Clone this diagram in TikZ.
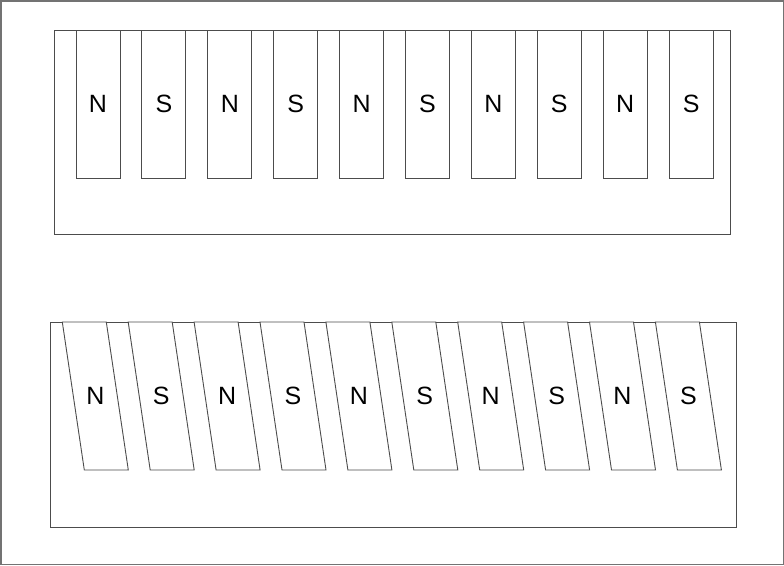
\documentclass[tikz,border=0pt]{standalone}
\usepackage{fontspec}
\setmainfont{Liberation Sans}
\begin{document}
\begin{tikzpicture}[x=1pt,y=-1pt,
  frame/.style={draw=black!70,line width=0.9pt},
  pole/.style={draw=black!70,line width=0.9pt,fill=white},
  lbl/.style={font=\fontsize{25}{25}\selectfont,inner sep=0pt}]
\useasboundingbox (0,0) rectangle (784,565);
\draw[draw=black!55,line width=1.5pt] (0.75,0.75) rectangle (783.25,564.25);
% top row
\draw[frame] (54,30) rectangle (730,234);
\foreach \i/\t in {0/N,1/S,2/N,3/S,4/N,5/S,6/N,7/S,8/N,9/S}{
  \pgfmathsetmacro{\xl}{76+65.9*\i}
  \draw[pole] (\xl,30) rectangle (\xl+44,178);
  \node[lbl] (t\i) at (\xl+22,104) {\t};
}
% bottom row
\draw[frame] (50,322) rectangle (736,527.5);
\foreach \i/\t in {0/N,1/S,2/N,3/S,4/N,5/S,6/N,7/S,8/N,9/S}{
  \pgfmathsetmacro{\xl}{62.3+65.9*\i}
  \draw[pole] (\xl,322) -- (\xl+44,322) -- (\xl+66,470) -- (\xl+22,470) -- cycle;
  \node[lbl] (b\i) at (\xl+33,396) {\t};
}
\end{tikzpicture}
\end{document}
